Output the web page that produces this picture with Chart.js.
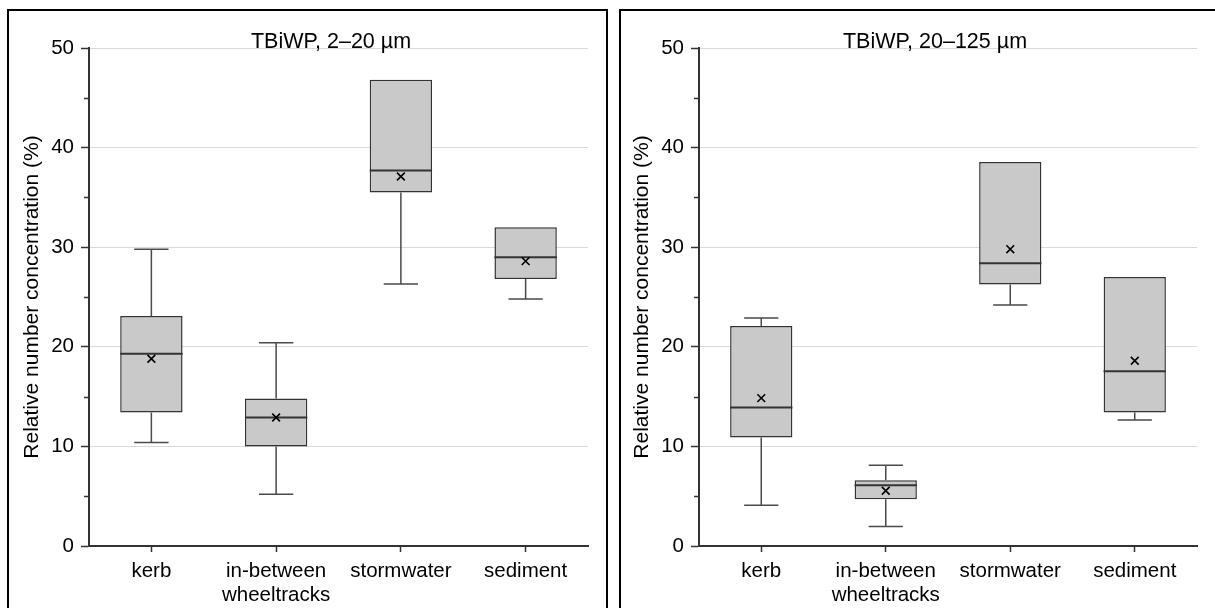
<!DOCTYPE html>
<html>
<head>
<meta charset="utf-8">
<script src="https://cdn.jsdelivr.net/npm/chart.js@4.4.1/dist/chart.umd.min.js"></script>
<style>
html, body { margin: 0; padding: 0; background: #fff; overflow: hidden; width: 1215px; height: 608px; }
.frame { position: absolute; top: 9px; height: 720px; border: 2px solid #000; box-sizing: border-box; }
#f1 { left: 7px; width: 601px; }
#f2 { left: 619px; width: 700px; }
canvas { position: absolute; top: 0; }
#c1 { left: 0; }
#c2 { left: 610px; }
</style>
</head>
<body>
<div class="frame" id="f1"></div>
<div class="frame" id="f2"></div>
<canvas id="c1" width="607" height="608" style="width:607px;height:608px"></canvas>
<canvas id="c2" width="605" height="608" style="width:605px;height:608px"></canvas>
<script>
// ---- data ----
const categories = [['kerb'], ['in-between', 'wheeltracks'], ['stormwater'], ['sediment']];
const yTicks = [0, 10, 20, 30, 40, 50];

// TBiWP, 2–20 µm
const fineTitle = 'TBiWP, 2–20 µm';
const fineMin    = [10.4, 5.2, 26.3, 24.8];
const fineQ1     = [13.4, 10.0, 35.5, 26.8];
const fineMedian = [19.3, 12.9, 37.7, 29.0];
const fineQ3     = [23.1, 14.8, 46.8, 32.0];
const fineMax    = [29.8, 20.4, 46.8, 32.0];
const fineMean   = [18.8, 12.9, 37.1, 28.6];

// TBiWP, 20–125 µm
const coarseTitle = 'TBiWP, 20–125 µm';
const coarseMin    = [4.1, 1.95, 24.2, 12.65];
const coarseQ1     = [10.9, 4.7, 26.25, 13.4];
const coarseMedian = [13.9, 6.1, 28.4, 17.55];
const coarseQ3     = [22.1, 6.6, 38.55, 27.0];
const coarseMax    = [22.9, 8.1, 38.55, 27.0];
const coarseMean   = [14.85, 5.55, 29.8, 18.6];

const yTitle = 'Relative number concentration (%)';
const FONT = '"Liberation Sans", Arial, sans-serif';

const boxExtras = {
  id: 'boxExtras',
  afterDatasetDraw(chart, args, opts) {
    if (args.index !== 0) return;
    const ctx = chart.ctx, y = chart.scales.y;
    const meta = chart.getDatasetMeta(0);
    ctx.save();
    meta.data.forEach((bar, i) => {
      const x = bar.x, w = bar.width, cap = w * 0.55;
      const yMin = y.getPixelForValue(opts.min[i]);
      const yMax = y.getPixelForValue(opts.max[i]);
      const yQ1 = y.getPixelForValue(opts.q1[i]);
      const yQ3 = y.getPixelForValue(opts.q3[i]);
      const yMed = y.getPixelForValue(opts.median[i]);
      ctx.strokeStyle = '#4a4a4a';
      ctx.lineWidth = 1.5;
      ctx.beginPath();
      if (opts.max[i] > opts.q3[i]) {
        ctx.moveTo(x, yQ3); ctx.lineTo(x, yMax);
        ctx.moveTo(x - cap / 2, yMax); ctx.lineTo(x + cap / 2, yMax);
      }
      if (opts.min[i] < opts.q1[i]) {
        ctx.moveTo(x, yQ1); ctx.lineTo(x, yMin);
        ctx.moveTo(x - cap / 2, yMin); ctx.lineTo(x + cap / 2, yMin);
      }
      ctx.stroke();
      ctx.strokeStyle = '#333';
      ctx.lineWidth = 2;
      ctx.beginPath();
      ctx.moveTo(x - w / 2, yMed); ctx.lineTo(x + w / 2, yMed);
      ctx.stroke();
    });
    ctx.restore();
  },
  afterDraw(chart, args, opts) {
    const ctx = chart.ctx, y = chart.scales.y, area = chart.chartArea;
    ctx.save();
    // minor ticks
    ctx.strokeStyle = '#333';
    ctx.lineWidth = 1.5;
    ctx.beginPath();
    for (let v = 5; v < 50; v += 10) {
      const py = Math.round(y.getPixelForValue(v)) + 0.5;
      ctx.moveTo(area.left - 5, py); ctx.lineTo(area.left, py);
    }
    ctx.stroke();
    // panel title
    ctx.fillStyle = '#000';
    ctx.font = '21.5px ' + FONT;
    ctx.textAlign = 'center';
    ctx.textBaseline = 'alphabetic';
    ctx.fillText(opts.title, opts.titleX, 48);
    ctx.restore();
  }
};

function makeChart(id, title, titleX, padRight, mn, q1, med, q3, mx, mean) {
  return new Chart(document.getElementById(id), {
    data: {
      labels: categories,
      datasets: [
        {
          type: 'bar',
          data: q1.map((v, i) => [v, q3[i]]),
          backgroundColor: '#c9c9c9',
          borderColor: '#333',
          borderWidth: 1.5,
          borderSkipped: false,
          barPercentage: 0.5,
          categoryPercentage: 1.0,
          order: 1
        },
        {
          type: 'line',
          data: mean,
          showLine: false,
          pointStyle: 'crossRot',
          pointRadius: 5.5,
          pointBorderWidth: 1.6,
          pointBorderColor: '#000',
          pointBackgroundColor: 'rgba(0,0,0,0)',
          order: 0
        }
      ]
    },
    options: {
      responsive: false,
      animation: false,
      events: [],
      layout: { padding: { left: 0, right: padRight, top: 48, bottom: 0 } },
      plugins: {
        legend: { display: false },
        tooltip: { enabled: false },
        title: { display: false },
        boxExtras: { min: mn, q1: q1, median: med, q3: q3, max: mx, title: title, titleX: titleX }
      },
      scales: {
        x: {
          type: 'category',
          offset: true,
          afterFit(s) { s.height = 62; },
          grid: { drawOnChartArea: false, offset: false, tickLength: 6, tickColor: '#333', tickWidth: 1.5 },
          border: { display: true, color: '#333', width: 2 },
          ticks: {
            color: '#000', padding: 8, maxRotation: 0, autoSkip: false,
            font: { family: FONT, size: 20.5, lineHeight: 1.14 }
          }
        },
        y: {
          min: 0, max: 50,
          afterFit(s) { s.width = 89; },
          afterBuildTicks(s) { s.ticks = yTicks.map(v => ({ value: v })); },
          grid: {
            color: (c) => (c.tick && c.tick.value === 0) ? 'rgba(0,0,0,0)' : '#d9d9d9',
            lineWidth: 1,
            tickLength: 8, tickColor: '#333', tickWidth: 1.5
          },
          border: { display: true, color: '#333', width: 2 },
          ticks: { color: '#000', padding: 7, font: { family: FONT, size: 20.5 } },
          title: {
            display: true, text: yTitle, color: '#000',
            font: { family: FONT, size: 21 },
            padding: { top: 20, bottom: 0 }
          }
        }
      }
    },
    plugins: [boxExtras]
  });
}

makeChart('c1', fineTitle, 331, 19, fineMin, fineQ1, fineMedian, fineQ3, fineMax, fineMean);
makeChart('c2', coarseTitle, 325, 18, coarseMin, coarseQ1, coarseMedian, coarseQ3, coarseMax, coarseMean);
</script>
</body>
</html>
